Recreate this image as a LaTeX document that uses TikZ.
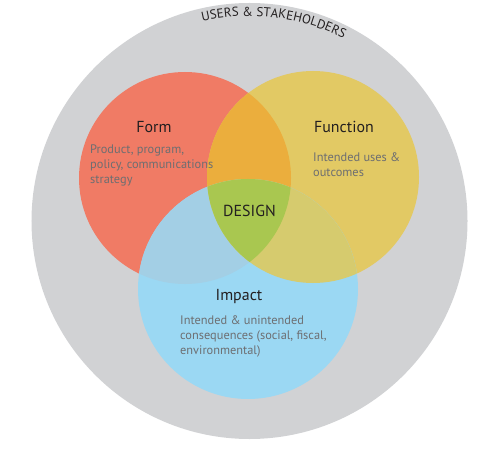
\documentclass[tikz,border=0pt]{standalone}
\usepackage{fontspec}
\setmainfont{PT Sans}
\usetikzlibrary{decorations.text}
\definecolor{ringgray}{HTML}{D1D2D4}
\definecolor{formred}{HTML}{F07B65}
\definecolor{funcyellow}{HTML}{E2C964}
\definecolor{impblue}{HTML}{9BD8F3}
\definecolor{rycol}{HTML}{EBAE3D}
\definecolor{rbcol}{HTML}{A3CFE5}
\definecolor{ybcol}{HTML}{D6CB6E}
\definecolor{rybcol}{HTML}{A9C750}
\definecolor{headtext}{HTML}{231F20}
\definecolor{subtext}{HTML}{6D6E71}
\tikzset{
  headlabel/.style={font=\fontsize{16}{19}\selectfont, text=headtext, inner sep=0pt, anchor=base},
  sublabel/.style={font=\fontsize{12.4}{14.8}\selectfont, text=subtext, inner sep=0pt, anchor=north west, align=left},
}
\begin{document}
\begin{tikzpicture}[x=1bp,y=-1bp]
\useasboundingbox (0,0) rectangle (500,469);
\coordinate (gc) at (249.5,221);
\coordinate (rc) at (185,178);
\coordinate (yc) at (313,177);
\coordinate (bc) at (248,289);
\def\rr{106bp}\def\yr{106bp}\def\br{110bp}
% outer ring
\fill[ringgray] (gc) circle[radius=218bp];
% circles
\fill[formred] (rc) circle[radius=\rr];
\fill[funcyellow] (yc) circle[radius=\yr];
\fill[impblue] (bc) circle[radius=\br];
% overlaps
\begin{scope}
  \clip (rc) circle[radius=\rr];
  \fill[rycol] (yc) circle[radius=\yr];
  \fill[rbcol] (bc) circle[radius=\br];
\end{scope}
\begin{scope}
  \clip (yc) circle[radius=\yr];
  \fill[ybcol] (bc) circle[radius=\br];
\end{scope}
\begin{scope}
  \clip (rc) circle[radius=\rr];
  \clip (yc) circle[radius=\yr];
  \fill[rybcol] (bc) circle[radius=\br];
\end{scope}
% curved title
\path[decorate, decoration={text along path, text align=center,
  text={|\fontsize{13}{15}\selectfont\color{headtext}|USERS {\&} STAKEHOLDERS}}]
  (gc) ++(110:205bp) arc[start angle=110, end angle=56, radius=205bp];
% labels
\node[headlabel] (formt) at (154,133) {Form};
\node[sublabel] (forms) at (90,145) {Product, program,\\policy, communications\\strategy};
\node[headlabel] (funct) at (344,133) {Function};
\node[sublabel] (funcs) at (313,153) {Intended uses \&\\outcomes};
\node[headlabel] (design) at (249.5,217) {DESIGN};
\node[headlabel] (impt) at (239,300) {Impact};
\node[sublabel] (imps) at (180,316) {Intended \& unintended\\consequences (social, fiscal,\\environmental)};
\end{tikzpicture}
\end{document}
